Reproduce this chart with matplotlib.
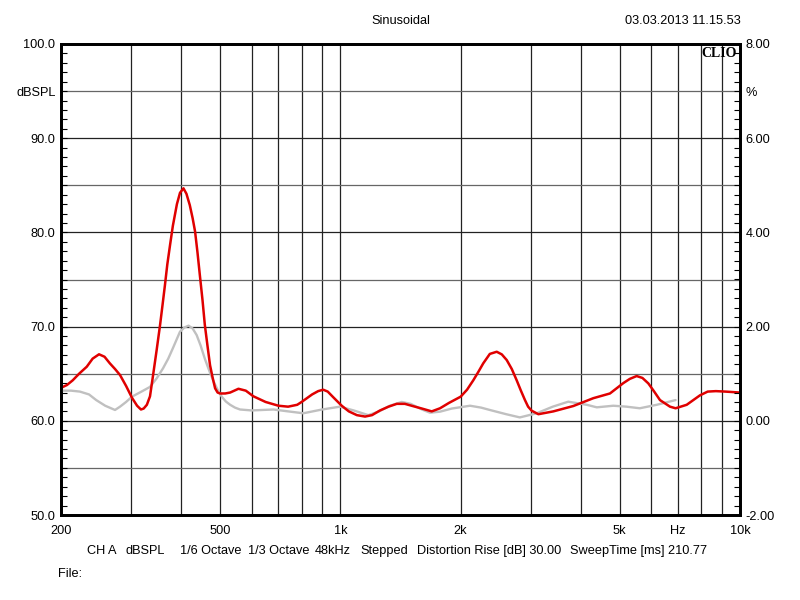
import matplotlib
matplotlib.use('Agg')
import matplotlib.pyplot as plt
from matplotlib.ticker import FixedLocator, FixedFormatter, NullFormatter

plt.rcParams['font.family'] = ['Liberation Sans', 'DejaVu Sans']

# red trace: response in dBSPL
red_freq = [200, 207, 214, 222, 232, 240, 249, 257, 265, 273, 281, 291, 301, 310, 317,
            322, 328, 334, 340, 347, 354, 359, 364, 369, 375, 381, 390, 397, 405, 412,
            420, 427, 433, 439, 445, 452, 458, 465, 472, 479, 486, 493, 500, 515, 530,
            556, 580, 606, 650, 700, 740, 780, 800, 850, 880, 906, 930, 960, 1008, 1050,
            1100, 1153, 1200, 1257, 1320, 1384, 1450, 1522, 1600, 1693, 1776, 1870, 2000,
            2075, 2151, 2215, 2278, 2366, 2462, 2535, 2608, 2685, 2762, 2830, 2897, 2950,
            3011, 3130, 3412, 3828, 4295, 4727, 5105, 5300, 5513, 5700, 5897, 6100, 6306,
            6681, 6900, 7356, 7938, 8300, 8700, 9200, 10000]
red_db = [63.5, 63.8, 64.3, 65.0, 65.74, 66.6, 67.06, 66.8, 66.1, 65.5, 64.86, 63.7, 62.45,
          61.6, 61.2, 61.3, 61.7, 62.6, 64.86, 67.5, 70.2, 72.3, 74.4, 76.6, 78.7, 80.7,
          83.0, 84.2, 84.68, 84.1, 82.9, 81.5, 80.1, 77.9, 75.5, 72.8, 70.2, 68.0, 65.9,
          64.6, 63.45, 63.0, 62.9, 62.9, 63.0, 63.4, 63.2, 62.6, 62.0, 61.6, 61.5, 61.7,
          62.0, 62.8, 63.15, 63.3, 63.1, 62.5, 61.6, 61.0, 60.6, 60.45, 60.6, 61.1, 61.5,
          61.8, 61.8, 61.55, 61.3, 61.0, 61.33, 61.9, 62.56, 63.3, 64.3, 65.2, 66.1, 67.1,
          67.33, 67.05, 66.45, 65.5, 64.3, 63.2, 62.2, 61.5, 61.07, 60.7, 61.0, 61.57,
          62.4, 62.9, 64.0, 64.45, 64.75, 64.55, 63.97, 63.1, 62.2, 61.5, 61.33, 61.7,
          62.7, 63.1, 63.15, 63.1, 63.0]

# gray trace (drawn on the dB scale as read)
gray_freq = [200, 212, 223, 235, 245, 258, 273, 281, 291, 301, 318, 334, 347, 360, 371,
             381, 390, 397, 407, 417, 427, 437, 447, 458, 470, 482, 493, 505, 517, 530,
             545, 561, 600, 680, 740, 808, 900, 998, 1080, 1175, 1250, 1330, 1424, 1500,
             1600, 1676, 1776, 1900, 2111, 2250, 2366, 2600, 2813, 3100, 3400, 3718,
             4135, 4382, 4819, 5200, 5613, 6190, 6900]
gray_db = [63.2, 63.2, 63.1, 62.8, 62.2, 61.6, 61.15, 61.5, 62.0, 62.56, 63.1, 63.6,
           64.5, 65.57, 66.6, 67.7, 68.7, 69.46, 69.9, 70.1, 69.8, 69.1, 68.0, 66.6, 65.3,
           64.15, 63.3, 62.56, 62.05, 61.7, 61.4, 61.2, 61.1, 61.2, 61.0, 60.8, 61.2, 61.5,
           61.1, 60.6, 61.0, 61.6, 62.0, 61.8, 61.2, 60.86, 60.97, 61.3, 61.6, 61.4, 61.15,
           60.7, 60.36, 60.8, 61.5, 62.03, 61.7, 61.43, 61.6, 61.5, 61.33, 61.7, 62.2]

x_major = [200, 500, 1000, 2000, 5000, 7000, 10000]
x_labels = ['200', '500', '1k', '2k', '5k', 'Hz', '10k']
x_minor = [300, 400, 600, 700, 800, 900, 3000, 4000, 6000, 8000, 9000]

y_major = [50, 55, 60, 65, 70, 75, 80, 85, 90, 95, 100]
y_labels = ['50.0', '', '60.0', '', '70.0', '', '80.0', '', '90.0', 'dBSPL', '100.0']
y_minor = [v for v in range(50, 101) if v % 5]

r_major = [-2, -1, 0, 1, 2, 3, 4, 5, 6, 7, 8]
r_labels = ['-2.00', '', '0.00', '', '2.00', '', '4.00', '', '6.00', '%', '8.00']
r_minor = [v / 5 for v in range(-10, 41) if v % 5]

FS = 9.2

fig = plt.figure(figsize=(8, 6), dpi=100)
ax = fig.add_axes([61 / 800, 1 - 515 / 600, 679 / 800, 471 / 600])

ax.plot(gray_freq, gray_db, color='#c0c0c0', lw=1.7, zorder=3, solid_joinstyle='round',
        solid_capstyle='round')
ax.plot(red_freq, red_db, color='#e00000', lw=1.8, zorder=4, solid_joinstyle='round',
        solid_capstyle='round')

ax.set_xscale('log')
ax.set_xlim(200, 10000)
ax.set_ylim(50, 100)

ax.xaxis.set_major_locator(FixedLocator(x_major))
ax.xaxis.set_major_formatter(FixedFormatter(x_labels))
ax.xaxis.set_minor_locator(FixedLocator(x_minor))
ax.xaxis.set_minor_formatter(NullFormatter())
ax.tick_params(axis='x', which='both', length=0, pad=7, labelsize=FS)

ax.yaxis.set_major_locator(FixedLocator(y_major))
ax.yaxis.set_major_formatter(FixedFormatter(y_labels))
ax.yaxis.set_minor_locator(FixedLocator(y_minor))
ax.tick_params(axis='y', which='both', direction='in', length=4, width=0.8, pad=4,
               labelsize=FS)

ax.grid(True, axis='x', which='both', color='#222222', lw=0.9)
ax.grid(True, axis='y', which='major', color='#222222', lw=0.9)
for i, gl in enumerate(ax.yaxis.get_gridlines()):
    if i % 2:
        gl.set_color('#666666')

for s in ax.spines.values():
    s.set_linewidth(2)
    s.set_color('black')

ax2 = ax.twinx()
ax2.set_ylim(-2, 8)
ax2.yaxis.set_major_locator(FixedLocator(r_major))
ax2.yaxis.set_major_formatter(FixedFormatter(r_labels))
ax2.yaxis.set_minor_locator(FixedLocator(r_minor))
ax2.tick_params(axis='y', which='both', direction='in', length=4, width=0.8, pad=4,
                labelsize=FS)
for s in ax2.spines.values():
    s.set_linewidth(2)

ax.text(0.995, 0.994, 'CLIO', transform=ax.transAxes, ha='right', va='top',
        family=['Liberation Serif', 'DejaVu Serif'], fontweight='bold', fontsize=10,
        zorder=6)

fig.text(401 / 800, 1 - 21 / 600, 'Sinusoidal', ha='center', va='center', fontsize=FS)
fig.text(683 / 800, 1 - 21 / 600, '03.03.2013 11.15.53', ha='center', va='center',
         fontsize=FS)

info = [(87, 'CH A'), (125, 'dBSPL'), (180, '1/6 Octave'), (248, '1/3 Octave'),
        (315, '48kHz'), (360, 'Stepped'), (417, 'Distortion Rise [dB] 30.00'),
        (570, 'SweepTime [ms] 210.77')]
for xp, t in info:
    fig.text(xp / 800, 1 - 551 / 600, t, ha='left', va='center', fontsize=FS)
fig.text(58 / 800, 1 - 574 / 600, 'File:', ha='left', va='center', fontsize=FS)

fig.savefig('out.png', dpi=100)
